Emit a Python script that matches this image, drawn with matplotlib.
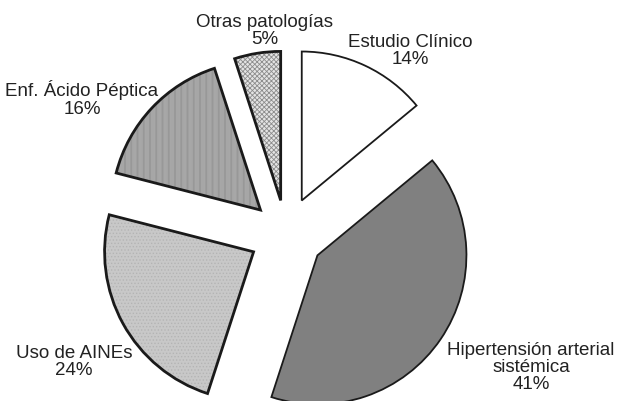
import matplotlib.pyplot as plt

plt.rcParams['font.family'] = ['Liberation Sans', 'DejaVu Sans']
plt.rcParams['hatch.linewidth'] = 0.6

# data, clockwise from the top
labels = ['Estudio Clínico', 'Hipertensión arterial\nsistémica', 'Uso de AINEs',
          'Enf. Ácido Péptica', 'Otras patologías']
percents = [14, 41, 24, 16, 5]

# styles
face_colors = ['white', '#808080', '#c8c8c8', '#d8d8d8', '#e4e4e4']
hatch_colors = ['white', '#808080', '#b4b4b4', '#8c8c8c', '#8c8c8c']
hatches = [None, None, '.....', '|' * 14, 'x' * 7]
edge_widths = [1.3, 1.3, 2.0, 2.0, 2.0]
explode = [37, 38, 37, 35, 34]

# label positions in pixels (x, y from top)
label_pos = [(410, 51), (531, 368), (74, 362), (82, 99), (265, 31)]

W, H = 617, 402
CX, CY, R = 286, 235, 149

fig = plt.figure(figsize=(W / 100, H / 100), dpi=100)
ax = fig.add_axes([0, 0, 1, 1])

# fill + hatch pass
wedges, _ = ax.pie(percents, explode=explode, startangle=90, counterclock=False,
                   center=(CX, H - CY), radius=R, frame=True,
                   wedgeprops=dict(linewidth=0))
for w, fc, hc, ht in zip(wedges, face_colors, hatch_colors, hatches):
    w.set_facecolor(fc)
    w.set_edgecolor(hc)
    if ht:
        w.set_hatch(ht)

# outline pass
outl, _ = ax.pie(percents, explode=explode, startangle=90, counterclock=False,
                 center=(CX, H - CY), radius=R, frame=True,
                 wedgeprops=dict(fill=False, edgecolor='#1a1a1a'))
for w, lw in zip(outl, edge_widths):
    w.set_linewidth(lw)

for lab, p, (x, y) in zip(labels, percents, label_pos):
    ax.text(x, H - y, f'{lab}\n{p}%', ha='center', va='center',
            fontsize=13.5, color='#222222', linespacing=1.0)

ax.set_xlim(0, W)
ax.set_ylim(0, H)
ax.set_aspect('equal')
ax.axis('off')

fig.savefig('out.png', dpi=100)
